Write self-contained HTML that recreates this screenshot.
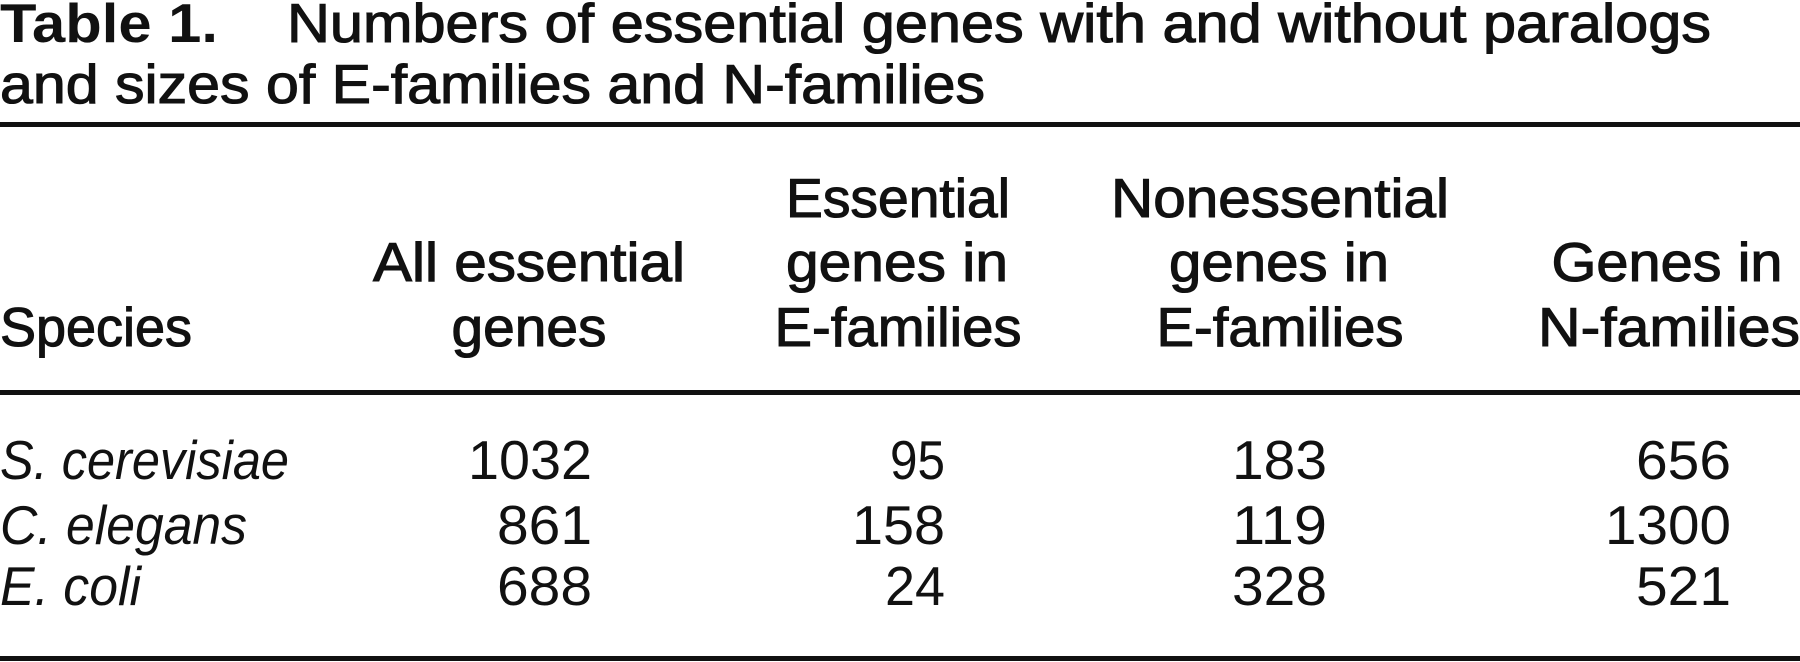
<!DOCTYPE html>
<html><head><meta charset="utf-8"><style>
html,body{margin:0;padding:0;background:#fff;}
svg{display:block;}
text{font-family:"Liberation Sans",sans-serif;fill:#111;font-size:55px;}
.b{font-weight:bold;}
.m{stroke:#111;stroke-width:1.1px;}
.i{font-style:italic;}
</style></head><body>
<svg width="1800" height="662" viewBox="0 0 1800 662" xmlns="http://www.w3.org/2000/svg">
<text class="b" x="0" y="42" textLength="218" lengthAdjust="spacingAndGlyphs">Table 1.</text>
<text class="m" x="287" y="42" textLength="1424" lengthAdjust="spacingAndGlyphs">Numbers of essential genes with and without paralogs</text>
<text class="m" x="0" y="103" textLength="985" lengthAdjust="spacingAndGlyphs">and sizes of E-families and N-families</text>
<rect x="0" y="122" width="1800" height="5" fill="#111"/>

<g class="m" text-anchor="middle">
<text x="529" y="281" textLength="312" lengthAdjust="spacingAndGlyphs">All essential</text>
<text x="529" y="346" textLength="155" lengthAdjust="spacingAndGlyphs">genes</text>
<text x="898" y="217" textLength="224" lengthAdjust="spacingAndGlyphs">Essential</text>
<text x="897" y="281" textLength="222" lengthAdjust="spacingAndGlyphs">genes in</text>
<text x="898" y="346" textLength="247" lengthAdjust="spacingAndGlyphs">E-families</text>
<text x="1280" y="217" textLength="338" lengthAdjust="spacingAndGlyphs">Nonessential</text>
<text x="1279" y="281" textLength="220" lengthAdjust="spacingAndGlyphs">genes in</text>
<text x="1280" y="346" textLength="247" lengthAdjust="spacingAndGlyphs">E-families</text>
<text x="1667" y="281" textLength="231" lengthAdjust="spacingAndGlyphs">Genes in</text>
<text x="1669" y="346" textLength="262" lengthAdjust="spacingAndGlyphs">N-families</text>
</g>
<text class="m" x="0" y="346" textLength="192" lengthAdjust="spacingAndGlyphs">Species</text>
<rect x="0" y="390" width="1800" height="5" fill="#111"/>

<text class="i" x="0" y="479" textLength="289" lengthAdjust="spacingAndGlyphs">S. cerevisiae</text>
<text class="i" x="0" y="544" textLength="247" lengthAdjust="spacingAndGlyphs">C. elegans</text>
<text class="i" x="0" y="605" textLength="141" lengthAdjust="spacingAndGlyphs">E. coli</text>
<g text-anchor="end">
<text x="592" y="479" textLength="124" lengthAdjust="spacingAndGlyphs">1032</text>
<text x="592" y="544" textLength="95" lengthAdjust="spacingAndGlyphs">861</text>
<text x="592" y="605" textLength="95" lengthAdjust="spacingAndGlyphs">688</text>
<text x="945" y="479" textLength="55" lengthAdjust="spacingAndGlyphs">95</text>
<text x="945" y="544" textLength="93" lengthAdjust="spacingAndGlyphs">158</text>
<text x="945" y="605" textLength="60" lengthAdjust="spacingAndGlyphs">24</text>
<text x="1327" y="479" textLength="95" lengthAdjust="spacingAndGlyphs">183</text>
<text x="1327" y="544" textLength="95" lengthAdjust="spacingAndGlyphs">119</text>
<text x="1327" y="605" textLength="95" lengthAdjust="spacingAndGlyphs">328</text>
<text x="1731" y="479" textLength="95" lengthAdjust="spacingAndGlyphs">656</text>
<text x="1731" y="544" textLength="126" lengthAdjust="spacingAndGlyphs">1300</text>
<text x="1731" y="605" textLength="95" lengthAdjust="spacingAndGlyphs">521</text>
</g>
<rect x="0" y="656" width="1800" height="5" fill="#111"/>
</svg>
</body></html>
